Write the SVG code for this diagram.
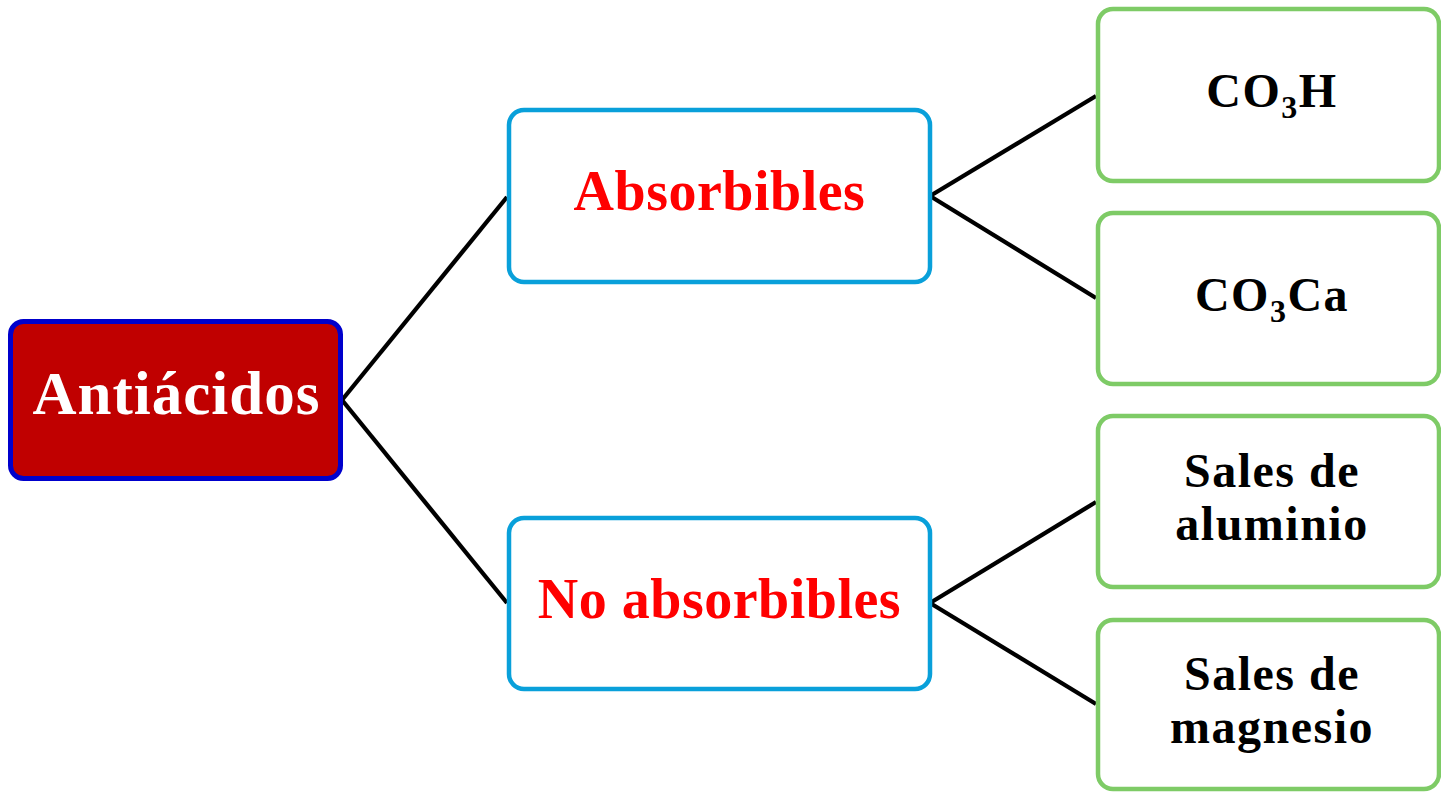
<svg xmlns="http://www.w3.org/2000/svg" width="1441" height="793" viewBox="0 0 1441 793">
  <style>
    .root { fill: #C00000; stroke: #0000CC; stroke-width: 5; }
    .mid { fill: #FFFFFF; stroke: #09A0DA; stroke-width: 4.5; }
    .leaf { fill: #FFFFFF; stroke: #7ECB66; stroke-width: 4.5; }
    .link { stroke: #000000; stroke-width: 4.3; fill: none; }
    text { font-family: "Liberation Serif", "Times New Roman", serif; font-weight: bold; text-anchor: middle; }
    .t-root { fill: #FFFFFF; font-size: 61px; letter-spacing: 1px; }
    .t-mid { fill: #FF0000; font-size: 56px; letter-spacing: 0.5px; }
    .t-leaf { fill: #000000; font-size: 48px; letter-spacing: 1.5px; }
  </style>
  <rect width="1441" height="793" fill="#FFFFFF"/>

  <g id="connectors">
    <line class="link" x1="342" y1="400" x2="507" y2="197"/>
    <line class="link" x1="342" y1="400" x2="507" y2="603"/>
    <line class="link" x1="930" y1="196" x2="1096" y2="96"/>
    <line class="link" x1="930" y1="196" x2="1096" y2="298"/>
    <line class="link" x1="930" y1="603" x2="1096" y2="502"/>
    <line class="link" x1="930" y1="603" x2="1096" y2="704"/>
  </g>

  <g id="antiacidos">
    <rect class="root" x="10.5" y="321.5" width="330" height="157" rx="13"/>
    <text class="t-root" x="176.5" y="414">Antiácidos</text>
  </g>

  <g id="absorbibles">
    <rect class="mid" x="509" y="110" width="421" height="172" rx="15"/>
    <text class="t-mid" x="719.5" y="210">Absorbibles</text>
  </g>

  <g id="no-absorbibles">
    <rect class="mid" x="509" y="518" width="421" height="171" rx="15"/>
    <text class="t-mid" x="719.5" y="618">No absorbibles</text>
  </g>

  <g id="co3h">
    <rect class="leaf" x="1098" y="9" width="341" height="172" rx="15"/>
    <text class="t-leaf" x="1272" y="107">CO<tspan font-size="32" dy="11">3</tspan><tspan dy="-11">H</tspan></text>
  </g>

  <g id="co3ca">
    <rect class="leaf" x="1098" y="213" width="341" height="171" rx="15"/>
    <text class="t-leaf" x="1272" y="311">CO<tspan font-size="32" dy="11">3</tspan><tspan dy="-11">Ca</tspan></text>
  </g>

  <g id="sales-aluminio">
    <rect class="leaf" x="1098" y="416" width="341" height="171" rx="15"/>
    <text class="t-leaf" x="1272" y="487">Sales de</text>
    <text class="t-leaf" x="1272" y="540">aluminio</text>
  </g>

  <g id="sales-magnesio">
    <rect class="leaf" x="1098" y="620" width="341" height="169" rx="15"/>
    <text class="t-leaf" x="1272" y="690">Sales de</text>
    <text class="t-leaf" x="1272" y="743">magnesio</text>
  </g>
</svg>
